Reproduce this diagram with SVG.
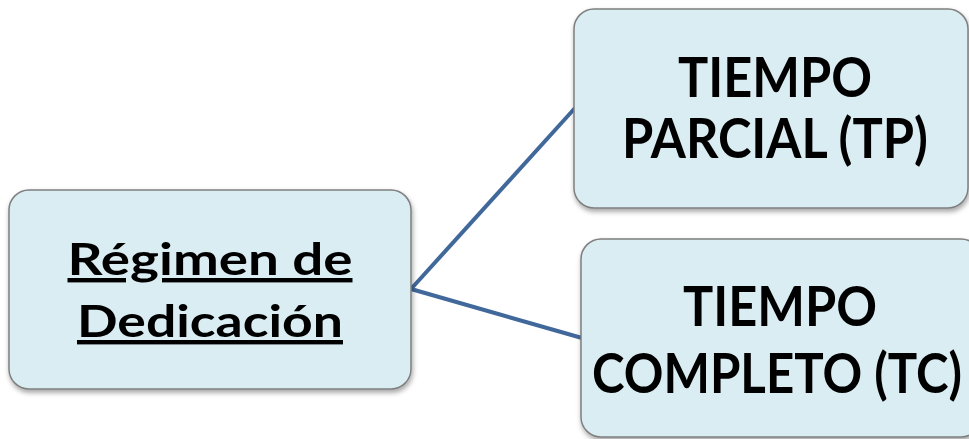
<svg xmlns="http://www.w3.org/2000/svg" width="969" height="439" viewBox="0 0 969 439">
<defs>
<filter id="sh" x="-10%" y="-10%" width="120%" height="130%">
<feDropShadow dx="1" dy="3" stdDeviation="2.5" flood-color="#000" flood-opacity="0.35"/>
</filter>
<style>
.box{fill:#daedf3;stroke:#7f7f7f;stroke-width:1.5;filter:url(#sh)}
.t{font-family:Lato,"Open Sans","Liberation Sans",sans-serif;font-weight:bold;fill:#000;text-anchor:middle}
.big{font-size:56px}
.mid{font-size:44px;text-decoration:underline}
.conn{stroke:#41689a;stroke-width:4;fill:none}
</style>
</defs>
<rect width="969" height="439" fill="#fff"/>
<g id="connectors">
<line class="conn" x1="411" y1="289" x2="575" y2="108"/>
<line class="conn" x1="411" y1="289" x2="582" y2="338"/>
</g>
<g id="node-regimen">
<rect class="box" x="9" y="190" width="402" height="199" rx="20"/>
<text class="t mid" x="210" y="275" textLength="285" lengthAdjust="spacingAndGlyphs">Régimen de</text>
<text class="t mid" x="210" y="337" textLength="266" lengthAdjust="spacingAndGlyphs">Dedicación</text>
</g>
<g id="node-tp">
<rect class="box" x="574" y="9" width="394" height="199" rx="20"/>
<text class="t big" x="775" y="97" textLength="194" lengthAdjust="spacingAndGlyphs">TIEMPO</text>
<text class="t big" x="775" y="158" textLength="306" lengthAdjust="spacingAndGlyphs">PARCIAL (TP)</text>
</g>
<g id="node-tc">
<rect class="box" x="581" y="239" width="400" height="198" rx="20"/>
<text class="t big" x="780" y="326" textLength="194" lengthAdjust="spacingAndGlyphs">TIEMPO</text>
<text class="t big" x="777" y="393" textLength="370" lengthAdjust="spacingAndGlyphs">COMPLETO (TC)</text>
</g>
</svg>
